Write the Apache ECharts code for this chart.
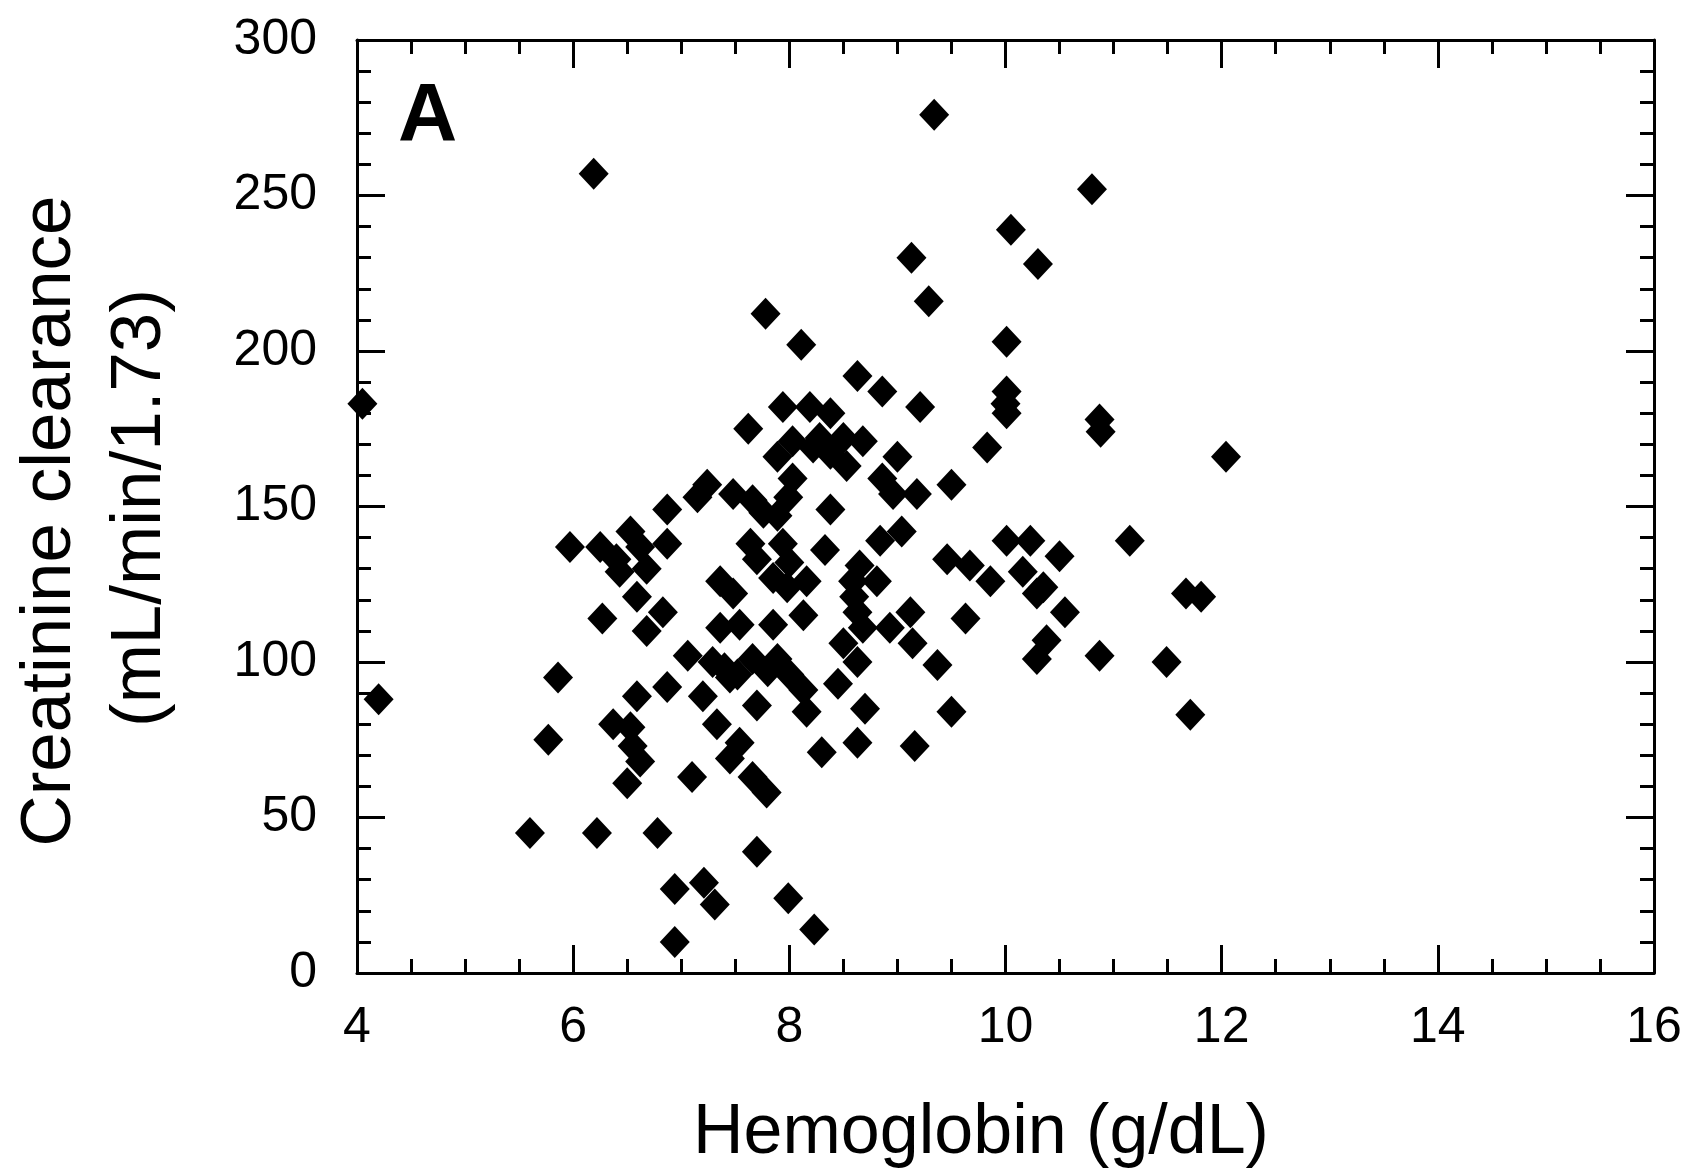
<!DOCTYPE html>
<html>
<head>
<meta charset="utf-8">
<title>Creatinine clearance vs hemoglobin</title>
<script src="https://cdn.jsdelivr.net/npm/echarts@6/dist/echarts.min.js"></script>
<style>
  html, body { margin: 0; padding: 0; background: #ffffff; }
  #chart { width: 1686px; height: 1173px; }
</style>
</head>
<body>
<div id="chart"></div>
<script>
// Hemoglobin (g/dL) for each patient
const hemoglobin = [
  4.05, 4.2, 5.6, 5.77, 5.86, 5.97, 6.19, 6.22, 6.25, 6.27,
  6.37, 6.4, 6.43, 6.5, 6.53, 6.53, 6.55, 6.59, 6.59, 6.62,
  6.62, 6.68, 6.68, 6.78, 6.83, 6.87, 6.87, 6.87, 6.94, 6.94,
  7.06, 7.1, 7.15, 7.2, 7.21, 7.24, 7.29, 7.31, 7.33, 7.36,
  7.36, 7.45, 7.45, 7.48, 7.48, 7.52, 7.54, 7.54, 7.62, 7.64,
  7.66, 7.66, 7.66, 7.7, 7.7, 7.7, 7.76, 7.78, 7.79, 7.85,
  7.85, 7.89, 7.89, 7.89, 7.94, 7.94, 7.98, 7.99, 7.99, 8.0,
  8.0, 8.03, 8.03, 8.11, 8.13, 8.13, 8.16, 8.16, 8.19, 8.22,
  8.23, 8.3, 8.28, 8.33, 8.38, 8.38, 8.38, 8.45, 8.5, 8.5,
  8.53, 8.59, 8.6, 8.63, 8.63, 8.63, 8.63, 8.65, 8.68, 8.68,
  8.7, 8.81, 8.84, 8.86, 8.86, 8.93, 8.96, 9.0, 9.04, 9.12,
  9.13, 9.14, 9.16, 9.18, 9.21, 9.29, 9.34, 9.37, 9.46, 9.5,
  9.5, 9.63, 9.67, 9.83, 9.86, 10.01, 10.01, 10.0, 10.01, 10.01,
  10.05, 10.16, 10.23, 10.29, 10.29, 10.3, 10.35, 10.38, 10.5, 10.55,
  10.8, 10.87, 10.88, 10.87, 11.15, 11.49, 11.67, 11.71, 11.81, 12.04,
  7.4, 7.8
];

// Creatinine clearance (mL/min/1.73) for the same patients
const clearance = [
  183, 88, 45, 75, 95, 137, 257, 45, 137, 114,
  80, 133, 129, 61, 142, 79, 73, 121, 89, 137,
  68, 130, 110, 45, 116, 149, 138, 92, 10, 27,
  102, 63, 153, 89, 29, 157, 100, 22, 80, 126,
  111, 95, 69, 154, 122, 96, 112, 74, 175, 138,
  152, 101, 63, 133, 86, 39, 148, 212, 58, 127,
  112, 166, 147, 101, 182, 138, 124, 153, 24, 132,
  96, 171, 159, 202, 115, 91, 126, 84, 182, 169,
  14, 71, 172, 136, 180, 167, 149, 93, 172, 106,
  163, 126, 121, 192, 116, 100, 74, 131, 171, 111,
  85, 126, 139, 187, 159, 111, 154, 166, 142, 116,
  230, 106, 73, 154, 182, 216, 276, 99, 133, 157,
  84, 114, 131, 169, 126, 203, 187, 183, 180, 139,
  239, 129, 139, 122, 101, 228, 124, 107, 134, 116,
  252, 178, 174, 102, 139, 100, 122, 83, 121, 166,
  98, 97
];

// Axis ranges and tick steps
const xRange = [4, 16];
const xStep = 2;
const yRange = [0, 300];
const yStep = 50;

const points = hemoglobin.map((h, i) => [h, clearance[i]]);

const FONT = '"Liberation Sans", Arial, sans-serif';
const INK = '#000000';

function frameAxis(extra) {
  return Object.assign({
    type: 'value',
    axisLine: { show: true, onZero: false, lineStyle: { color: INK, width: 3 } },
    axisTick: { show: true, inside: true, length: 28, lineStyle: { color: INK, width: 3 } },
    minorTick: { show: true, length: 14, lineStyle: { color: INK, width: 3 } },
    splitLine: { show: false },
    minorSplitLine: { show: false }
  }, extra);
}

const chart = echarts.init(document.getElementById('chart'), null, { renderer: 'canvas' });

chart.setOption({
  backgroundColor: '#ffffff',
  animation: false,
  grid: { left: 357, right: 32, top: 40, bottom: 200, containLabel: false },
  xAxis: [
    frameAxis({
      position: 'bottom',
      min: xRange[0], max: xRange[1], interval: xStep,
      minorTick: { show: true, splitNumber: 4, length: 14, lineStyle: { color: INK, width: 3 } },
      axisLabel: { show: true, color: INK, fontFamily: FONT, fontSize: 50, margin: 30 }
    }),
    frameAxis({
      position: 'top',
      min: xRange[0], max: xRange[1], interval: xStep,
      minorTick: { show: true, splitNumber: 4, length: 14, lineStyle: { color: INK, width: 3 } },
      axisLabel: { show: false }
    })
  ],
  yAxis: [
    frameAxis({
      position: 'left',
      min: yRange[0], max: yRange[1], interval: yStep,
      minorTick: { show: true, splitNumber: 5, length: 14, lineStyle: { color: INK, width: 3 } },
      axisLabel: { show: true, color: INK, fontFamily: FONT, fontSize: 50, margin: 40 }
    }),
    frameAxis({
      position: 'right',
      min: yRange[0], max: yRange[1], interval: yStep,
      minorTick: { show: true, splitNumber: 5, length: 14, lineStyle: { color: INK, width: 3 } },
      axisLabel: { show: false }
    })
  ],
  series: [{
    type: 'scatter',
    xAxisIndex: 0,
    yAxisIndex: 0,
    data: points,
    symbol: 'diamond',
    symbolSize: [30, 32],
    itemStyle: { color: INK, opacity: 1 },
    clip: false
  }],
  graphic: [
    {
      type: 'text',
      left: 398, top: 76,
      style: { text: 'A', font: '900 82px ' + FONT, fill: INK }
    },
    {
      type: 'text',
      x: 981, y: 1134,
      style: {
        text: 'Hemoglobin (g/dL)', font: '70px ' + FONT, fill: INK,
        align: 'center', verticalAlign: 'middle'
      }
    },
    {
      type: 'text',
      x: 50, y: 521, rotation: Math.PI / 2,
      style: {
        text: 'Creatinine clearance', font: '71px ' + FONT, fill: INK,
        align: 'center', verticalAlign: 'middle'
      }
    },
    {
      type: 'text',
      x: 140, y: 508, rotation: Math.PI / 2,
      style: {
        text: '(mL/min/1.73)', font: '71px ' + FONT, fill: INK,
        align: 'center', verticalAlign: 'middle'
      }
    }
  ]
});
</script>
</body>
</html>
